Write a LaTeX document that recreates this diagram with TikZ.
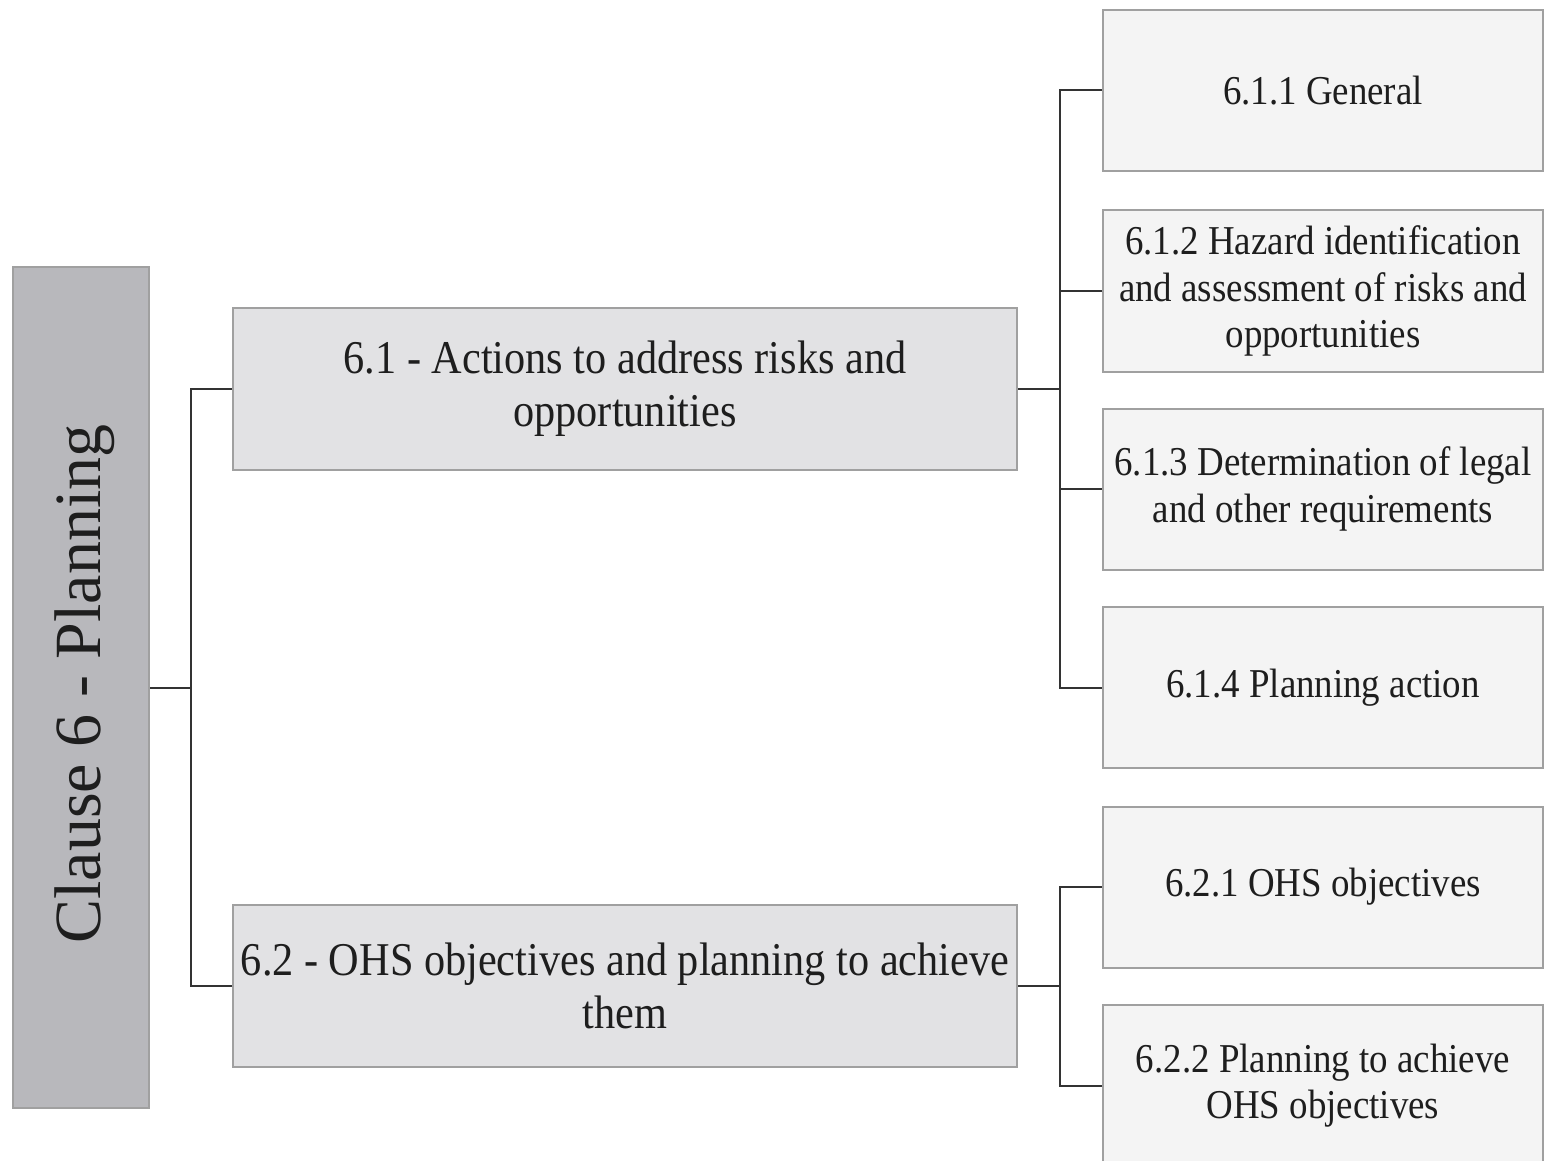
\documentclass[tikz,border=0pt]{standalone}
\usepackage{fontspec}
\setmainfont{Liberation Serif}
\newfontfamily\cond[FakeStretch=0.9]{Liberation Serif}
\definecolor{clausefill}{HTML}{B8B8BC}
\definecolor{midfill}{HTML}{E2E2E4}
\definecolor{leaffill}{HTML}{F4F4F4}
\definecolor{edge}{HTML}{A0A0A0}
\definecolor{ink}{HTML}{1E1E1E}
\definecolor{wire}{HTML}{333333}
\begin{document}
\begin{tikzpicture}[x=0.5pt,y=-0.5pt,
  clausebox/.style={draw=edge, line width=1pt, fill=clausefill, minimum width=68pt, minimum height=420.5pt, inner sep=0pt},
  midbox/.style={draw=edge, line width=1pt, fill=midfill, minimum width=392pt, minimum height=81pt, inner sep=0pt, align=center, text=ink, font=\cond\fontsize{23.5}{26.5}\selectfont},
  leafbox/.style={draw=edge, line width=1pt, fill=leaffill, minimum width=220pt, minimum height=80.5pt, inner sep=0pt, align=center, text=ink, font=\cond\fontsize{20.5}{23.2}\selectfont},
  conn/.style={draw=wire, line width=1pt}]
\useasboundingbox (0,0) rectangle (1549,1161);
\fill[white] (0,0) rectangle (1549,1161);
\node[clausebox] (clause) at (81,687.5) {};
\node[rotate=90, text=ink, font=\fontsize{33}{36}\selectfont] (clabel) at (85,684) {Clause 6 - Planning};
\node[midbox] (s61) at (625,389) {6.1 - Actions to address risks and\\opportunities};
\node[midbox] (s62) at (625,986) {6.2 - OHS objectives and planning to achieve\\them};
\node[leafbox] (b611) at (1323,90.5) {6.1.1 General};
\node[leafbox] (b612) at (1323,291) {6.1.2 Hazard identification\\and assessment of risks and\\opportunities};
\node[leafbox] (b613) at (1323,489) {6.1.3 Determination of legal\\and other requirements};
\node[leafbox] (b614) at (1323,687.5) {6.1.4 Planning action};
\node[leafbox] (b621) at (1323,887) {6.2.1 OHS objectives};
\node[leafbox] (b622) at (1323,1085.5) {6.2.2 Planning to achieve\\OHS objectives};
\coordinate (j1) at (191,687.5);
\coordinate (j2) at (1060,389);
\coordinate (j3) at (1060,986);
\draw[conn] (clause.east) -- (j1);
\draw[conn] (j1) |- (s61.west);
\draw[conn] (j1) |- (s62.west);
\draw[conn] (s61.east) -- (j2);
\draw[conn] (j2) |- (b611.west);
\draw[conn] (j2) |- (b612.west);
\draw[conn] (j2) |- (b613.west);
\draw[conn] (j2) |- (b614.west);
\draw[conn] (s62.east) -- (j3);
\draw[conn] (j3) |- (b621.west);
\draw[conn] (j3) |- (b622.west);
\end{tikzpicture}
\end{document}
